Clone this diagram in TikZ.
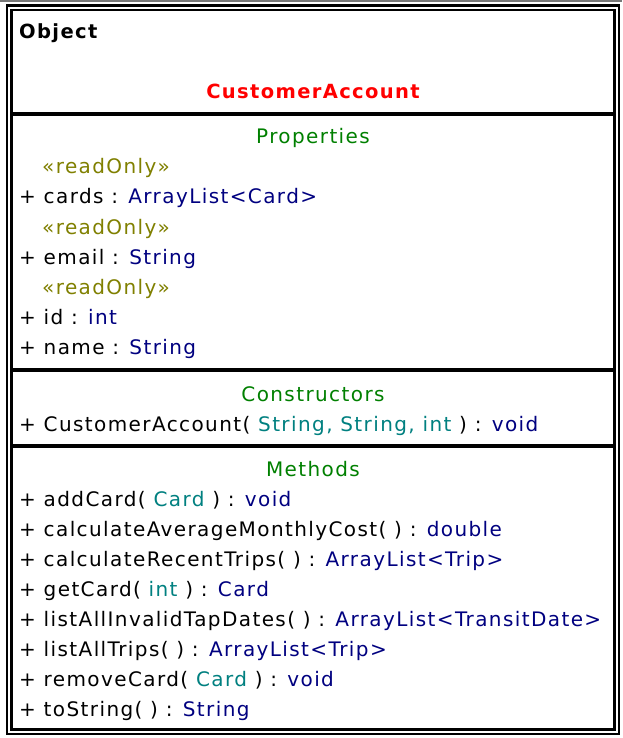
\documentclass[tikz,border=0pt]{standalone}
\usepackage{fontspec}
\setmainfont{DejaVu Sans}[LetterSpace=7]
\definecolor{tnavy}{RGB}{0,0,128}
\definecolor{tteal}{RGB}{0,128,128}
\definecolor{tolive}{RGB}{128,128,0}
\definecolor{tgreen}{RGB}{0,128,0}
\definecolor{tred}{RGB}{255,0,0}
\definecolor{tgray}{RGB}{120,120,120}
\newcommand{\ty}[1]{\textcolor{tnavy}{#1}}
\newcommand{\pa}[1]{\textcolor{tteal}{#1}}
\begin{document}
\begin{tikzpicture}[x=1pt,y=-1pt,
  txt/.style={anchor=base west,inner sep=0pt,font=\fontsize{20}{22}\selectfont},
  ctxt/.style={anchor=base,inner sep=0pt,font=\fontsize{20}{22}\selectfont},
  stereo/.style={txt,text=tolive},
  sect/.style={ctxt,text=tgreen},
  frame/.style={draw=black,line width=2.5pt},
  sep/.style={draw=black,line width=4pt}]
\useasboundingbox (0,0) rectangle (622,738);
\fill[white] (0,0) rectangle (622,738);
\fill[tgray] (0,0) rectangle (622,2);
\draw[frame] (7,5.5) rectangle (619,734);
\draw[frame] (11.5,10) rectangle (614.5,729.5);
\coordinate (l1) at (12,114);
\coordinate (r1) at (614,114);
\coordinate (l2) at (12,370);
\coordinate (r2) at (614,370);
\coordinate (l3) at (12,445.5);
\coordinate (r3) at (614,445.5);
\draw[sep] (l1) -- (r1);
\draw[sep] (l2) -- (r2);
\draw[sep] (l3) -- (r3);
\node[txt,font=\fontsize{19.5}{22}\selectfont\bfseries] (obj) at (19,39) {Object};
\node[ctxt,font=\fontsize{19.5}{22}\selectfont\bfseries,text=tred] (cls) at (313,99) {CustomerAccount};
\node[sect] (hp) at (313,144) {Properties};
\node[stereo] (s1) at (42,174) {«readOnly»};
\node[txt] (p1) at (19,204) {+ cards : \ty{ArrayList<Card>}};
\node[stereo] (s2) at (42,234) {«readOnly»};
\node[txt] (p2) at (19,264) {+ email : \ty{String}};
\node[stereo] (s3) at (42,294) {«readOnly»};
\node[txt] (p3) at (19,324) {+ id : \ty{int}};
\node[txt] (p4) at (19,354) {+ name : \ty{String}};
\node[sect] (hc) at (313,401) {Constructors};
\node[txt] (c1) at (19,431) {+ CustomerAccount( \pa{String, String, int} ) : \ty{void}};
\node[sect] (hm) at (313,476) {Methods};
\node[txt] (m1) at (19,506) {+ addCard( \pa{Card} ) : \ty{void}};
\node[txt] (m2) at (19,536) {+ calculateAverageMonthlyCost( ) : \ty{double}};
\node[txt] (m3) at (19,566) {+ calculateRecentTrips( ) : \ty{ArrayList<Trip>}};
\node[txt] (m4) at (19,596) {+ getCard( \pa{int} ) : \ty{Card}};
\node[txt] (m5) at (19,626) {+ listAllInvalidTapDates( ) : \ty{ArrayList<TransitDate>}};
\node[txt] (m6) at (19,656) {+ listAllTrips( ) : \ty{ArrayList<Trip>}};
\node[txt] (m7) at (19,686) {+ removeCard( \pa{Card} ) : \ty{void}};
\node[txt] (m8) at (19,716) {+ toString( ) : \ty{String}};
\end{tikzpicture}
\end{document}
